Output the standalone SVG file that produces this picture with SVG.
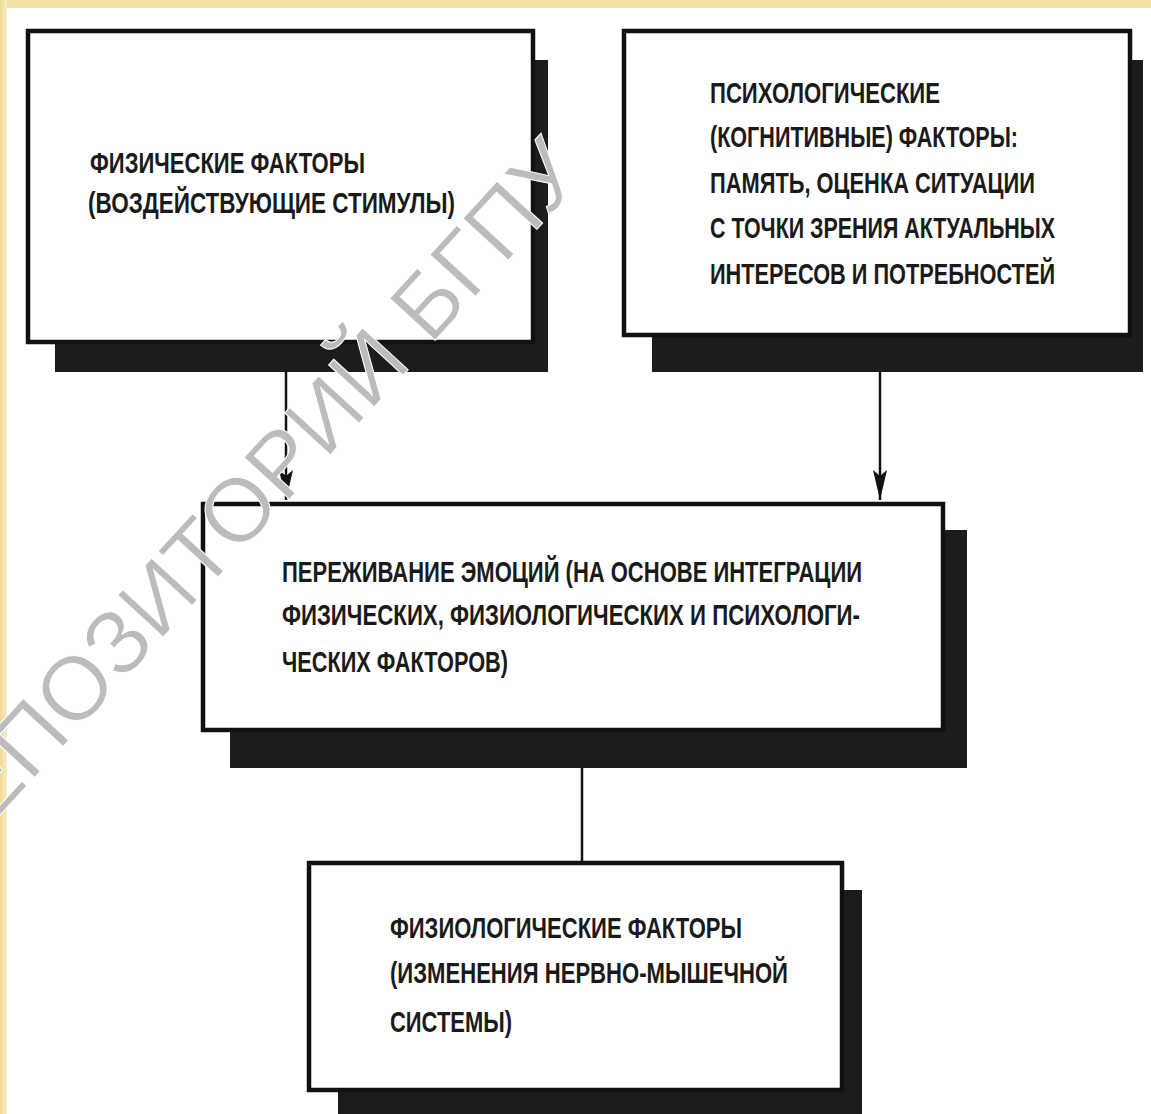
<svg xmlns="http://www.w3.org/2000/svg" width="1151" height="1114" viewBox="0 0 1151 1114">
<style>
.box{fill:#fff;stroke:#111;stroke-width:4.5}
.sh{fill:#1c1c1c}
.t{font-family:"Liberation Sans",Arial,sans-serif;font-weight:bold;font-size:30px;fill:#1a1a1a}
.wm{font-family:"Liberation Sans",Arial,sans-serif;font-size:90px;fill:#bcbcbc;stroke:#fff;stroke-width:1}
.ln{stroke:#111;stroke-width:2.5;fill:none}
</style>
<defs>
<marker id="ah" markerWidth="30" markerHeight="14" refX="30" refY="7" orient="auto" markerUnits="userSpaceOnUse" viewBox="0 0 30 14">
<path d="M0,0 L30,7 L0,14 L6,7 Z" fill="#111"/>
</marker>
<linearGradient id="yl" x1="0" y1="0" x2="1" y2="0">
<stop offset="0" stop-color="#eedb9a"/>
<stop offset="1" stop-color="#f8ecc4"/>
</linearGradient>
</defs>
<rect x="0" y="0" width="1151" height="1114" fill="#fff"/>
<rect x="0" y="0" width="1151" height="8" fill="#f3e2a6"/>
<rect x="0" y="0" width="7" height="1114" fill="url(#yl)"/>

<g id="connectors">
<line class="ln" x1="286" y1="372" x2="286" y2="500" marker-end="url(#ah)"/>
<line class="ln" x1="880" y1="372" x2="880" y2="500" marker-end="url(#ah)"/>
<line class="ln" x1="582" y1="768" x2="582" y2="862"/>
</g>

<g id="node-physical">
<rect class="sh" x="55" y="60" width="493" height="312"/>
<rect class="box" x="28" y="31" width="505" height="311"/>
<text class="t" x="90" y="173" textLength="275" lengthAdjust="spacingAndGlyphs">ФИЗИЧЕСКИЕ ФАКТОРЫ</text>
<text class="t" x="88" y="213" textLength="367" lengthAdjust="spacingAndGlyphs">(ВОЗДЕЙСТВУЮЩИЕ СТИМУЛЫ)</text>
</g>

<g id="node-psychological">
<rect class="sh" x="652" y="60" width="491" height="312"/>
<rect class="box" x="624" y="31" width="506" height="304"/>
<text class="t" x="710" y="103" textLength="230" lengthAdjust="spacingAndGlyphs">ПСИХОЛОГИЧЕСКИЕ</text>
<text class="t" x="710" y="147" textLength="308" lengthAdjust="spacingAndGlyphs">(КОГНИТИВНЫЕ) ФАКТОРЫ:</text>
<text class="t" x="710" y="193" textLength="325" lengthAdjust="spacingAndGlyphs">ПАМЯТЬ, ОЦЕНКА СИТУАЦИИ</text>
<text class="t" x="710" y="238" textLength="345" lengthAdjust="spacingAndGlyphs">С ТОЧКИ ЗРЕНИЯ АКТУАЛЬНЫХ</text>
<text class="t" x="710" y="284" textLength="345" lengthAdjust="spacingAndGlyphs">ИНТЕРЕСОВ И ПОТРЕБНОСТЕЙ</text>
</g>

<g id="node-experience">
<rect class="sh" x="230" y="530" width="737" height="238"/>
<rect class="box" x="203" y="504" width="740" height="226"/>
<text class="t" x="282" y="582" textLength="580" lengthAdjust="spacingAndGlyphs">ПЕРЕЖИВАНИЕ ЭМОЦИЙ (НА ОСНОВЕ ИНТЕГРАЦИИ</text>
<text class="t" x="282" y="625" textLength="578" lengthAdjust="spacingAndGlyphs">ФИЗИЧЕСКИХ, ФИЗИОЛОГИЧЕСКИХ И ПСИХОЛОГИ-</text>
<text class="t" x="282" y="672" textLength="226" lengthAdjust="spacingAndGlyphs">ЧЕСКИХ ФАКТОРОВ)</text>
</g>

<g id="node-physiological">
<rect class="sh" x="338" y="890" width="524" height="230"/>
<rect class="box" x="309" y="863" width="533" height="227"/>
<text class="t" x="390" y="938" textLength="352" lengthAdjust="spacingAndGlyphs">ФИЗИОЛОГИЧЕСКИЕ ФАКТОРЫ</text>
<text class="t" x="390" y="983" textLength="398" lengthAdjust="spacingAndGlyphs">(ИЗМЕНЕНИЯ НЕРВНО-МЫШЕЧНОЙ</text>
<text class="t" x="390" y="1032" textLength="122" lengthAdjust="spacingAndGlyphs">СИСТЕМЫ)</text>
</g>

<text class="wm" transform="translate(-52,872) rotate(-47.5)" textLength="945" lengthAdjust="spacingAndGlyphs">РЕПОЗИТОРИЙ БГПУ</text>
</svg>
